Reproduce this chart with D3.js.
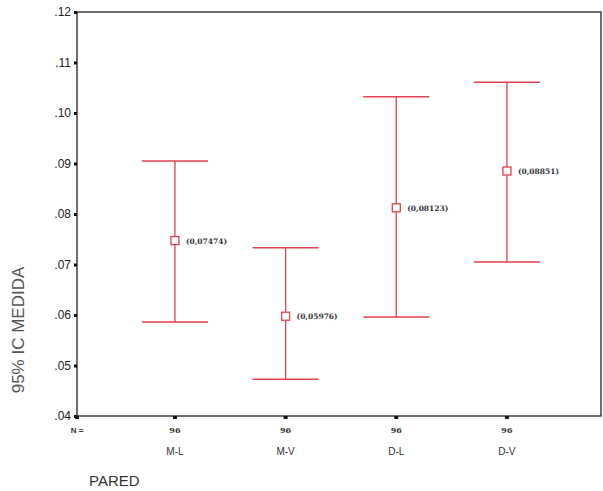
<!DOCTYPE html>
<html>
<head>
<meta charset="utf-8">
<script src="https://cdn.jsdelivr.net/npm/d3@7"></script>
<style>
  body { margin: 0; background: #fff; }
  svg { display: block; }
  text { font-family: Arial, "Liberation Sans", sans-serif; }
</style>
</head>
<body>
<div id="chart"></div>
<script>
// grupos de pared, n por grupo
var groups = ['M-L', 'M-V', 'D-L', 'D-V']
var counts = [96, 96, 96, 96]
// media e intervalo de confianza 95%
var means = [0.07474, 0.05976, 0.08123, 0.08851]
var lower = [0.0586, 0.0473, 0.0596, 0.0705]
var upper = [0.0905, 0.0733, 0.1032, 0.1061]
var meanLabels = ['(0,07474)', '(0,05976)', '(0,08123)', '(0,08851)']
var yTicks = [0.04, 0.05, 0.06, 0.07, 0.08, 0.09, 0.10, 0.11, 0.12]

var red = '#e2404e'
var width = 603, height = 491
var margin = {left: 77, right: 2, top: 12, bottom: 75}
var w = width - margin.left - margin.right
var h = height - margin.top - margin.bottom

var svg = d3.select('#chart').append('svg')
  .attr('width', width).attr('height', height)
var g = svg.append('g').attr('transform', 'translate(' + margin.left + ',' + margin.top + ')')

var x = d3.scaleLinear().domain([0.115, 4.85]).range([0, w])
var y = d3.scaleLinear().domain([0.04, 0.12]).range([h, 0])

// marco
g.append('rect')
  .attr('width', w).attr('height', h)
  .attr('fill', 'none').attr('stroke', '#222').attr('stroke-width', 1.3)

// eje y
var yAxis = g.append('g')
  .call(d3.axisLeft(y).tickValues(yTicks).tickSize(3)
    .tickFormat(function(d){ return d3.format('.2f')(d).replace(/^0/, '') }))
yAxis.select('.domain').remove()
yAxis.selectAll('.tick line').attr('stroke', '#111').attr('stroke-width', 3)
yAxis.selectAll('.tick text').attr('x', -6).style('font-size', '12px').attr('fill', '#222')

// eje x
var data = groups.map(function(d, i){
  return {name: d, n: counts[i], mean: means[i], lo: lower[i], hi: upper[i], label: meanLabels[i], pos: i + 1}
})

var xAxis = g.append('g').attr('transform', 'translate(0,' + h + ')')
xAxis.selectAll('rect.tick').data(data).enter().append('rect')
  .attr('x', function(d){ return x(d.pos) - 2 }).attr('y', 0)
  .attr('width', 4).attr('height', 3).attr('fill', '#111')
xAxis.append('rect').attr('x', -2).attr('y', 0).attr('width', 4).attr('height', 3).attr('fill', '#111')

xAxis.selectAll('text.n').data(data).enter().append('text')
  .attr('x', function(d){ return x(d.pos) }).attr('y', 17)
  .attr('text-anchor', 'middle')
  .style('font-size', '8px').style('font-family', '"DejaVu Serif", serif').style('font-weight', 'bold')
  .attr('fill', '#333')
  .text(function(d){ return d.n })
xAxis.append('text').attr('x', 0).attr('y', 17).attr('text-anchor', 'middle')
  .style('font-size', '8px').style('font-weight', 'bold').attr('fill', '#333').text('N =')

xAxis.selectAll('text.cat').data(data).enter().append('text')
  .attr('x', function(d){ return x(d.pos) }).attr('y', 39)
  .attr('text-anchor', 'middle')
  .style('font-size', '10px').attr('fill', '#333')
  .text(function(d){ return d.name })

// barras de error
var bars = g.selectAll('g.bar').data(data).enter().append('g')
bars.append('line')
  .attr('x1', function(d){ return x(d.pos) }).attr('x2', function(d){ return x(d.pos) })
  .attr('y1', function(d){ return y(d.hi) }).attr('y2', function(d){ return y(d.lo) })
  .attr('stroke', red).attr('stroke-width', 1.3)
bars.selectAll('line.cap').data(function(d){ return [[d.pos, d.hi], [d.pos, d.lo]] }).enter().append('line')
  .attr('x1', function(d){ return x(d[0]) - 33 }).attr('x2', function(d){ return x(d[0]) + 33 })
  .attr('y1', function(d){ return y(d[1]) }).attr('y2', function(d){ return y(d[1]) })
  .attr('stroke', red).attr('stroke-width', 1.5)
bars.append('rect')
  .attr('x', function(d){ return x(d.pos) - 4 }).attr('y', function(d){ return y(d.mean) - 4 })
  .attr('width', 8).attr('height', 8)
  .attr('fill', '#fff').attr('stroke', red).attr('stroke-width', 1.3)
bars.append('text')
  .attr('x', function(d){ return x(d.pos) + 11 }).attr('y', function(d){ return y(d.mean) + 3 })
  .style('font-size', '7.5px').style('font-family', '"DejaVu Serif", serif').style('font-weight', 'bold')
  .attr('fill', '#333')
  .text(function(d){ return d.label })

// titulos
svg.append('text')
  .attr('transform', 'translate(24,330) rotate(-90)')
  .attr('text-anchor', 'middle')
  .style('font-size', '17px').attr('fill', '#555')
  .text('95% IC MEDIDA')
svg.append('text')
  .attr('x', 89).attr('y', 486)
  .style('font-size', '15px').attr('fill', '#333')
  .text('PARED')
</script>
</body>
</html>
